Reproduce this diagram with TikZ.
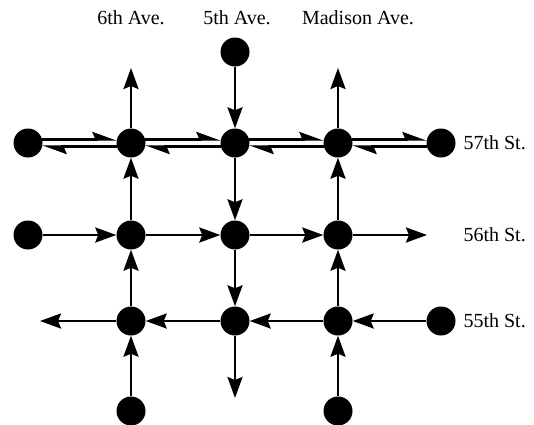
\documentclass[tikz,border=0pt]{standalone}
\usepackage{fontspec}
\setmainfont{Liberation Serif}
\usetikzlibrary{arrows.meta}

\begin{document}
\begin{tikzpicture}[x=1pt, y=-1pt,
        dot/.style={circle, fill=black, inner sep=0pt, minimum size=29pt},
        road/.style={line width=2.6pt, -{Stealth[length=21pt, width=15pt, inset=3pt]}},
        twoway/.style={line width=2.4pt, -{Stealth[length=21pt, width=15pt, inset=3pt, harpoon]}},
        roadname/.style={font=\fontsize{20}{24}\selectfont}]
    \useasboundingbox (0,0) rectangle (534,424);
    % street and avenue names
    \node[roadname] (a6) at (131,18) {6th Ave.};
    \node[roadname] (a5) at (237,18) {5th Ave.};
    \node[roadname] (am) at (358,18) {Madison Ave.};
    \node[roadname, anchor=west] (s57) at (460,143) {57th St.};
    \node[roadname, anchor=west] (s56) at (460,235) {56th St.};
    \node[roadname, anchor=west] (s55) at (460,321) {55th St.};
    % intersections
    \node[dot] (n5top) at (235,52) {};
    \node[dot] (w57) at (28,143) {};
    \node[dot] (c57a) at (131,143) {};
    \node[dot] (c57b) at (235,143) {};
    \node[dot] (c57c) at (338,143) {};
    \node[dot] (e57) at (441,143) {};
    \node[dot] (w56) at (28,235) {};
    \node[dot] (c56a) at (131,235) {};
    \node[dot] (c56b) at (235,235) {};
    \node[dot] (c56c) at (338,235) {};
    \node[dot] (c55a) at (131,321) {};
    \node[dot] (c55b) at (235,321) {};
    \node[dot] (c55c) at (338,321) {};
    \node[dot] (e55) at (441,321) {};
    \node[dot] (s6bot) at (131,411) {};
    \node[dot] (smbot) at (338,411) {};
    % loose ends
    \coordinate (top6) at (131,68);
    \coordinate (topm) at (338,68);
    \coordinate (end56) at (427,235);
    \coordinate (end55) at (40,321);
    \coordinate (bot5) at (235,398);
    % 57th St. both ways
    \draw[twoway] (w57.14) -- (c57a.166);
    \draw[twoway] (c57a.194) -- (w57.-14);
    \draw[twoway] (c57a.14) -- (c57b.166);
    \draw[twoway] (c57b.194) -- (c57a.-14);
    \draw[twoway] (c57b.14) -- (c57c.166);
    \draw[twoway] (c57c.194) -- (c57b.-14);
    \draw[twoway] (c57c.14) -- (e57.166);
    \draw[twoway] (e57.194) -- (c57c.-14);
    % 56th St. eastbound
    \draw[road] (w56) -- (c56a);
    \draw[road] (c56a) -- (c56b);
    \draw[road] (c56b) -- (c56c);
    \draw[road] (c56c) -- (end56);
    % 55th St. westbound
    \draw[road] (e55) -- (c55c);
    \draw[road] (c55c) -- (c55b);
    \draw[road] (c55b) -- (c55a);
    \draw[road] (c55a) -- (end55);
    % 6th Ave. northbound
    \draw[road] (s6bot) -- (c55a);
    \draw[road] (c55a) -- (c56a);
    \draw[road] (c56a) -- (c57a);
    \draw[road] (c57a) -- (top6);
    % 5th Ave. southbound
    \draw[road] (n5top) -- (c57b);
    \draw[road] (c57b) -- (c56b);
    \draw[road] (c56b) -- (c55b);
    \draw[road] (c55b) -- (bot5);
    % Madison Ave. northbound
    \draw[road] (smbot) -- (c55c);
    \draw[road] (c55c) -- (c56c);
    \draw[road] (c56c) -- (c57c);
    \draw[road] (c57c) -- (topm);
\end{tikzpicture}
\end{document}
